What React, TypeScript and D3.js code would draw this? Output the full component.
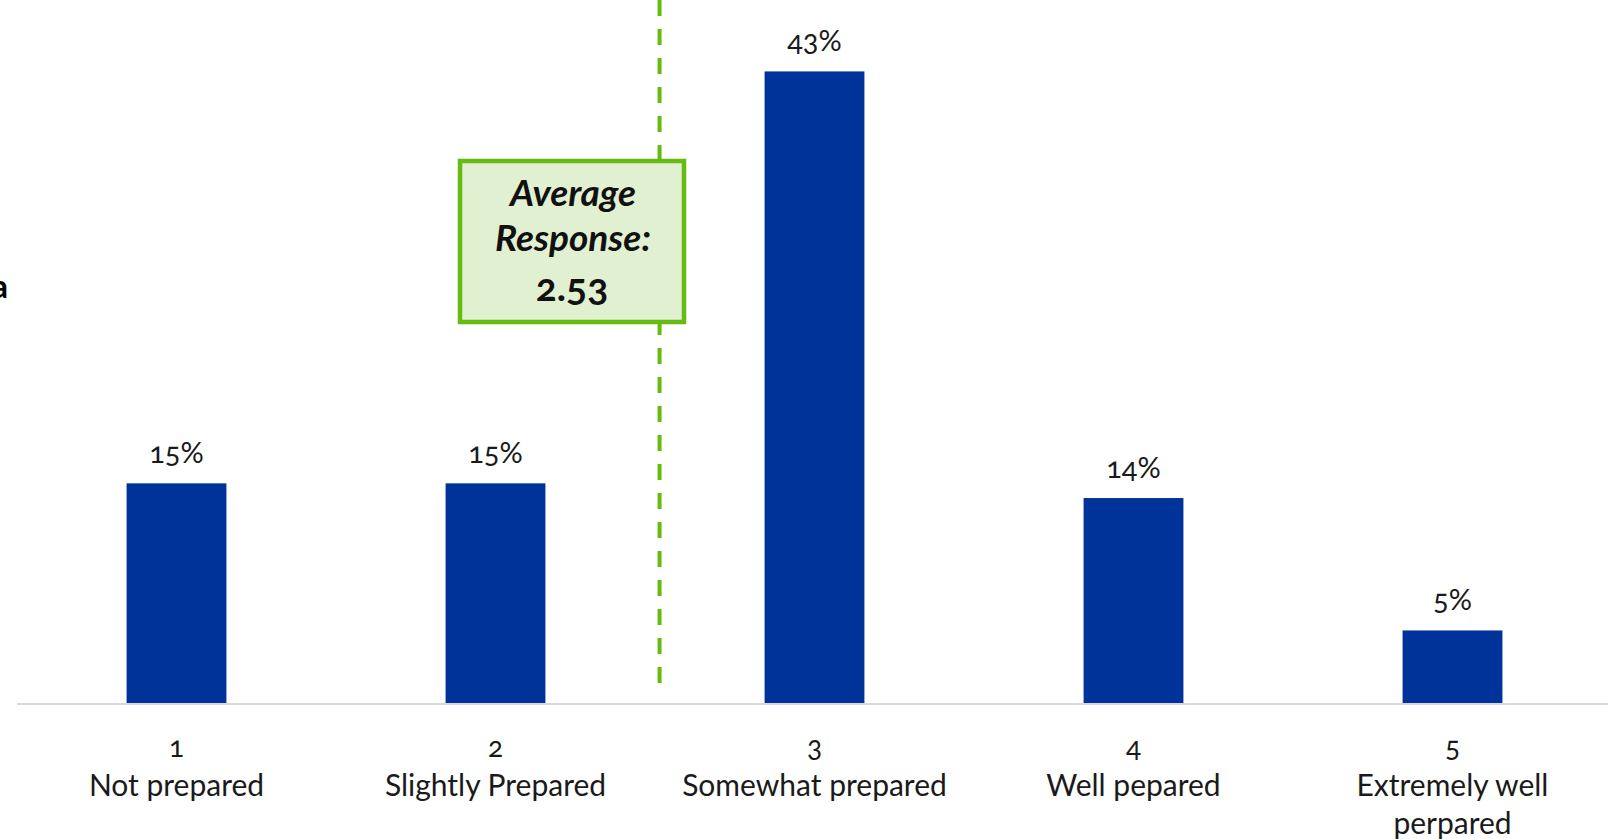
import React from "react";
import * as d3 from "d3";

const categories = ["1", "2", "3", "4", "5"];
const categoryLabels = [["Not prepared"], ["Slightly Prepared"], ["Somewhat prepared"], ["Well pepared"], ["Extremely well", "perpared"]];
const values = [0.15, 0.15, 0.43, 0.14, 0.05];
const averageScore = 2.53;
const averageLines = ["Average", "Response:"];
const averageText = "2.53";

const W = 1608;
const H = 839;
const BAR = "#003399";
const GREEN = "#66bb11";
const FONT = "Lato, 'Noto Sans', sans-serif";

export default function App() {
  const x = d3.scaleBand<string>().domain(categories).range([17, 1612]).paddingInner(0.687).paddingOuter(0.3435);
  const y = d3.scaleLinear().domain([0, 0.45]).range([704, 42]);
  const center = (c: string) => (x(c) ?? 0) + x.bandwidth() / 2;
  const avgX = d3.scaleLinear().domain([1, 5]).range([center(categories[0]), center(categories[4])]);
  const fmt = d3.format(".0%");
  const ax = avgX(averageScore) - 5;

  const box = { x: 460, y: 161, w: 224, h: 161 };

  return (
    <svg width={W} height={H} style={{ position: "absolute", left: 0, top: 0, background: "#fff" }} fontFamily={FONT}>
      <rect x={0} y={0} width={W} height={H} fill="#fff" />
      <text x={8} y={298} textAnchor="end" fontSize={32} fontWeight="bold" fill="#000">Data</text>
      {categories.map((c, i) => (
        <rect key={c} x={x(c)} y={y(values[i])} width={x.bandwidth()} height={y(0) - y(values[i])} fill={BAR} />
      ))}
      <line x1={17} x2={W} y1={y(0)} y2={y(0)} stroke="#d9d9d9" strokeWidth={2} />
      {categories.map((c, i) => (
        <text key={"v" + c} x={center(c)} y={y(values[i]) - 20} textAnchor="middle" fontSize={29} fill="#1a1a1a" style={{ fontVariantNumeric: "oldstyle-nums" }}>
          {fmt(values[i])}
        </text>
      ))}
      {categories.map((c, i) => (
        <text key={"c" + c} x={center(c)} textAnchor="middle" fontSize={30} fill="#1a1a1a" style={{ fontVariantNumeric: "oldstyle-nums" }}>
          <tspan x={center(c)} y={757} fontSize={28}>{c}</tspan>
          {categoryLabels[i].map((l, j) => (
            <tspan key={j} x={center(c)} y={796 + j * 38}>{l}</tspan>
          ))}
        </text>
      ))}
      <line x1={ax} x2={ax} y1={0} y2={696} stroke={GREEN} strokeWidth={4} strokeDasharray="16 13" />
      <rect x={box.x} y={box.y} width={box.w} height={box.h} fill="#e0f0d0" stroke={GREEN} strokeWidth={4.5} />
      {averageLines.map((l, i) => (
        <text key={l} x={box.x + box.w / 2 + 1} y={206 + i * 45} textAnchor="middle" fontSize={37} fontWeight="bold" fontStyle="italic" fill="#111">
          {l}
        </text>
      ))}
      <text x={box.x + box.w / 2} y={301} textAnchor="middle" fontSize={39} fontWeight="bold" fill="#111" style={{ fontVariantNumeric: "oldstyle-nums" }}>
        {averageText}
      </text>
    </svg>
  );
}
